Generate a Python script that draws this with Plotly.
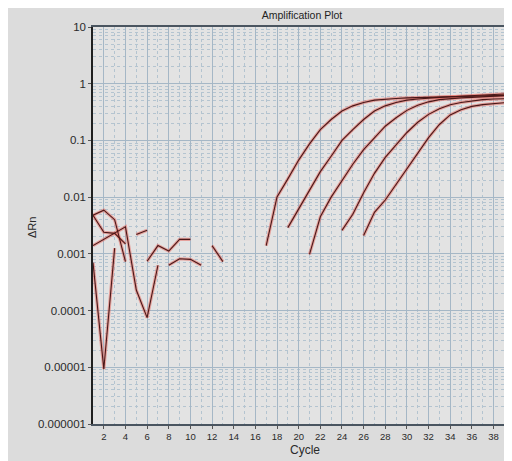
import plotly.graph_objects as go

# Amplification curves (delta Rn per cycle), start cycle + values
amp_starts = [17, 19, 21, 24, 26]
amp_1 = [0.0014, 0.0101, 0.021, 0.045, 0.087, 0.155, 0.234, 0.331, 0.407, 0.468, 0.513, 0.537,
         0.55, 0.562, 0.569, 0.575, 0.582, 0.589, 0.596, 0.603, 0.61, 0.617, 0.624, 0.631]
amp_2 = [0.0029, 0.0063, 0.0135, 0.0282, 0.0525, 0.1, 0.155, 0.234, 0.331, 0.407, 0.468, 0.513,
         0.537, 0.562, 0.575, 0.589, 0.603, 0.617, 0.631, 0.646, 0.661, 0.676]
amp_3 = [0.00098, 0.0045, 0.01, 0.02, 0.038, 0.069, 0.112, 0.178, 0.251, 0.339, 0.417, 0.479,
         0.525, 0.55, 0.562, 0.575, 0.589, 0.603, 0.617, 0.631]
amp_4 = [0.0026, 0.005, 0.012, 0.0263, 0.0501, 0.0832, 0.138, 0.209, 0.288, 0.363, 0.427, 0.468,
         0.501, 0.525, 0.537, 0.55, 0.55]
amp_5 = [0.0021, 0.0054, 0.0089, 0.0166, 0.0316, 0.0603, 0.112, 0.191, 0.282, 0.347, 0.398, 0.427,
         0.447, 0.468, 0.479]

# Baseline noise fragments (start cycle, values)
noise_starts = [1, 1, 1, 1, 5, 6, 8, 12]
noise_a = [0.0007, 0.0000093, 0.00126]
noise_b = [0.0048, 0.0059, 0.004, 0.00073]
noise_c = [0.0048, 0.0024, 0.0023, 0.0015]
noise_d = [0.0014, 0.0018, 0.0023, 0.003, 0.00023, 0.000075, 0.00063]
noise_e = [0.0022, 0.0026]
noise_f = [0.00074, 0.0014, 0.00112, 0.0018, 0.0018]
noise_g = [0.00063, 0.00082, 0.0008, 0.00063]
noise_h = [0.0014, 0.00073]

y_tickvals = [1e-6, 1e-5, 1e-4, 1e-3, 1e-2, 1e-1, 1, 10]
y_ticktext = ["0.000001", "0.00001", "0.0001", "0.001", "0.01", "0.1", "1", "10"]
x_tickvals = list(range(2, 40, 2))

# the page body adds an 8px offset, so the figure is sized to fill the rest of the window
W, H = 504, 453
L, R, T, B = 85, 0, 19, 37
PW, PH = W - L - R, H - T - B
PX_PER_CYCLE = 10.825

series = list(zip(amp_starts, [amp_1, amp_2, amp_3, amp_4, amp_5])) + \
    list(zip(noise_starts, [noise_a, noise_b, noise_c, noise_d, noise_e, noise_f, noise_g, noise_h]))

fig = go.Figure()

# red halo underneath, dark core on top
for start, vals in series:
    xs = [start + i for i in range(len(vals))]
    fig.add_trace(go.Scatter(x=xs, y=vals, mode='lines',
                             line=dict(color='rgba(232,95,85,0.5)', width=3.2),
                             showlegend=False, hoverinfo='skip'))
for start, vals in series:
    xs = [start + i for i in range(len(vals))]
    fig.add_trace(go.Scatter(x=xs, y=vals, mode='lines',
                             line=dict(color='#4a1818', width=1.1),
                             showlegend=False))

grid_major = '#a5b7c6'
grid_minor = '#b4c4d0'

fig.update_xaxes(
    range=[1, 1 + PW / PX_PER_CYCLE],
    tickvals=x_tickvals,
    ticks='outside', ticklen=3, tickcolor='#555',
    tickfont=dict(family='Liberation Sans, Arial', size=9.5, color='#2a2a2a'),
    showline=True, linecolor='#4a5560', linewidth=1.5, mirror=True,
    showgrid=True, gridcolor=grid_major, gridwidth=1,
    minor=dict(dtick=1, tick0=1, showgrid=True, gridcolor=grid_minor, griddash='dot', gridwidth=1),
    zeroline=False,
)
fig.update_yaxes(
    type='log', range=[-6, 1],
    tickvals=y_tickvals, ticktext=y_ticktext,
    ticks='outside', ticklen=3, tickcolor='#555',
    tickfont=dict(family='Liberation Sans, Arial', size=11.5, color='#2a2a2a'),
    showline=True, linecolor='#202020', linewidth=1.5,
    showgrid=True, gridcolor=grid_major, gridwidth=1,
    minor=dict(dtick='D1', showgrid=True, gridcolor=grid_minor, griddash='dot', gridwidth=1),
    zeroline=False,
)

fig.update_layout(
    width=W, height=H,
    margin=dict(l=L, r=R, t=T, b=B, pad=0),
    paper_bgcolor='#dcdcdc',
    plot_bgcolor='#e3e3e3',
    title=dict(text='Amplification Plot', x=294 / W, xanchor='center',
               y=1 - 7 / H, yanchor='middle', yref='container', xref='container',
               font=dict(family='Liberation Sans, Arial', size=10.5, color='#222')),
    annotations=[
        dict(text='ΔRn', xref='paper', yref='paper',
             x=(24 - L) / PW, y=(H - B - 220) / PH,
             textangle=-90, showarrow=False, xanchor='center', yanchor='middle',
             font=dict(family='Liberation Sans, Arial', size=11, color='#2a2a2a')),
        dict(text='Cycle', xref='paper', yref='paper',
             x=(297 - L) / PW, y=-(442 - (H - B)) / PH,
             showarrow=False, xanchor='center', yanchor='middle',
             font=dict(family='Liberation Sans, Arial', size=12, color='#2a2a2a')),
    ],
)

# hide the window scrollbars so the figure can run to the right edge
fig.write_html("out.html",
               post_script="document.documentElement.style.overflow='hidden';")
